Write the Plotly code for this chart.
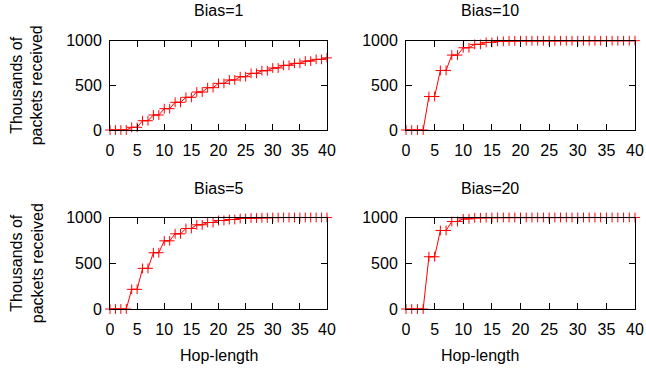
import plotly.graph_objects as go

hops = list(range(41))

bias1 = [0, 0, 0, 0, 30, 30, 104, 104, 168, 168, 239, 239, 310, 310, 366, 366,
         425, 425, 474, 474, 522, 522, 560, 560, 597, 597, 634, 634, 664, 664,
         694, 694, 724, 724, 746, 746, 772, 772, 791, 791, 808]
bias10 = [0, 0, 0, 0, 375, 375, 667, 667, 839, 839, 921, 921, 959, 959, 981, 981,
          993, 993, 998, 998, 1000, 1000, 1000, 1000, 1000, 1000, 1000, 1000, 1000,
          1000, 1000, 1000, 1000, 1000, 1000, 1000, 1000, 1000, 1000, 1000, 1000]
bias5 = [0, 0, 0, 0, 215, 215, 444, 444, 615, 615, 745, 745, 822, 822, 880, 880,
         920, 920, 945, 945, 967, 967, 978, 978, 989, 989, 994, 994, 997, 997,
         999, 999, 1000, 1000, 1000, 1000, 1000, 1000, 1000, 1000, 1000]
bias20 = [0, 0, 0, 0, 571, 571, 858, 858, 956, 956, 985, 985, 996, 996, 999, 999,
          1000, 1000, 1000, 1000, 1000, 1000, 1000, 1000, 1000, 1000, 1000, 1000,
          1000, 1000, 1000, 1000, 1000, 1000, 1000, 1000, 1000, 1000, 1000, 1000, 1000]

titles = ["Bias=1", "Bias=10", "Bias=5", "Bias=20"]
series = [bias1, bias10, bias5, bias20]
x_ticks = [0, 5, 10, 15, 20, 25, 30, 35, 40]
y_ticks = [0, 500, 1000]

W, H = 646, 373
FONT = "Liberation Sans, Arial, Helvetica, sans-serif"

# reference pixel boxes (left, right, top, bottom)
boxes = [(110, 327, 40.7, 130), (406, 635, 40.7, 130),
         (110, 327, 217.5, 309), (406, 635, 217.5, 309)]
title_y = [10, 10, 188, 188]

fig = go.Figure()
for i, (vals, box) in enumerate(zip(series, boxes)):
    n = "" if i == 0 else str(i + 1)
    fig.add_trace(go.Scatter(
        x=hops, y=vals, mode="lines+markers",
        line=dict(color="#ff0000", width=1),
        marker=dict(symbol="cross-thin", size=7, line=dict(color="#ff0000", width=1)),
        xaxis="x" + n, yaxis="y" + n, cliponaxis=False, showlegend=False))
    l, r, t, b = box
    common = dict(showline=True, linecolor="black", linewidth=1, mirror="ticks",
                  ticks="inside", ticklen=6, tickcolor="black", showgrid=False,
                  zeroline=False, automargin=False,
                  tickfont=dict(family=FONT, size=16, color="black"))
    fig.update_layout(**{
        "xaxis" + n: dict(domain=[l / W, r / W], range=[0, 40], tickvals=x_ticks,
                          anchor="y" + n, ticklabelstandoff=6, **common),
        "yaxis" + n: dict(domain=[1 - b / H, 1 - t / H], range=[0, 1000], tickvals=y_ticks,
                          anchor="x" + n, ticklabelstandoff=4, **common),
    })
    fig.add_annotation(text=titles[i], x=(l + r) / 2 / W, y=1 - title_y[i] / H,
                       xref="paper", yref="paper", showarrow=False, yanchor="middle",
                       font=dict(family=FONT, size=16, color="black"))

for yc in [(40.7 + 130) / 2, (217.5 + 309) / 2]:
    fig.add_annotation(text="Thousands of<br>packets received", x=27 / W,
                       y=1 - yc / H, xref="paper", yref="paper", showarrow=False,
                       textangle=-90, xanchor="center", yanchor="middle",
                       font=dict(family=FONT, size=16, color="black"))

for xc in [(110 + 327) / 2, (406 + 635) / 2]:
    fig.add_annotation(text="Hop-length", x=xc / W, y=1 - 355 / H, xref="paper",
                       yref="paper", showarrow=False, yanchor="middle",
                       font=dict(family=FONT, size=16, color="black"))

fig.update_layout(width=W, height=H, margin=dict(l=0, r=0, t=0, b=0),
                  paper_bgcolor="white", plot_bgcolor="white")
fig.write_html("out.html", config={"displayModeBar": False},
               post_script="document.body.style.margin='0';")
